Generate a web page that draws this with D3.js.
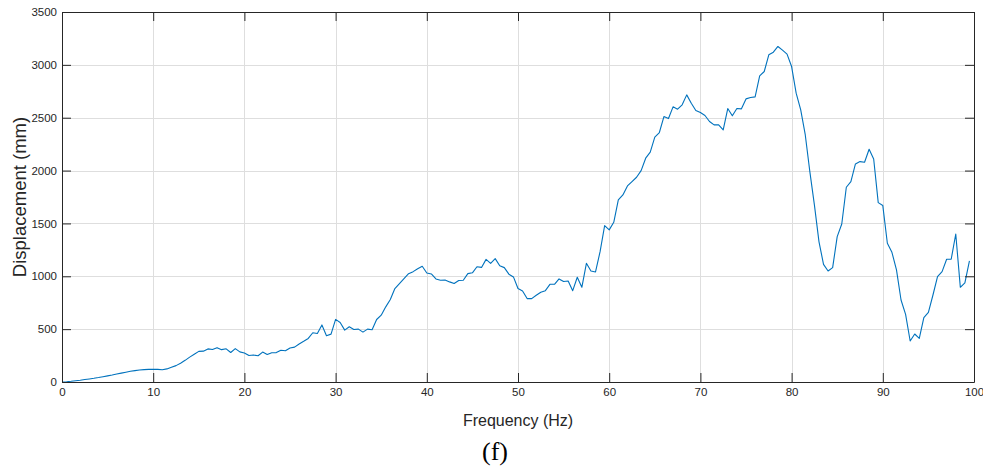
<!DOCTYPE html>
<html>
<head>
<meta charset="utf-8">
<script src="https://cdn.jsdelivr.net/npm/d3@7/dist/d3.min.js"></script>
<style>
  html, body { margin: 0; padding: 0; background: #fff; }
  svg { display: block; }
</style>
</head>
<body>
<svg id="chart" width="983" height="468"></svg>
<script>
// ---- data ----
const frequency = [
  0, 0.5, 1, 1.5, 2, 2.5, 3, 3.5, 4, 4.5, 5, 5.5, 6, 6.5, 7, 7.5, 8, 8.5, 9, 9.5,
  10, 10.5, 11, 11.5, 12, 12.5, 13, 13.5, 14, 14.5, 15, 15.5, 16, 16.5, 17, 17.5, 18, 18.5, 19, 19.5,
  20, 20.5, 21, 21.5, 22, 22.5, 23, 23.5, 24, 24.5, 25, 25.5, 26, 26.5, 27, 27.5, 28, 28.5, 29, 29.5,
  30, 30.5, 31, 31.5, 32, 32.5, 33, 33.5, 34, 34.5, 35, 35.5, 36, 36.5, 37, 37.5, 38, 38.5, 39, 39.5,
  40, 40.5, 41, 41.5, 42, 42.5, 43, 43.5, 44, 44.5, 45, 45.5, 46, 46.5, 47, 47.5, 48, 48.5, 49, 49.5,
  50, 50.5, 51, 51.5, 52, 52.5, 53, 53.5, 54, 54.5, 55, 55.5, 56, 56.5, 57, 57.5, 58, 58.5, 59, 59.5,
  60, 60.5, 61, 61.5, 62, 62.5, 63, 63.5, 64, 64.5, 65, 65.5, 66, 66.5, 67, 67.5, 68, 68.5, 69, 69.5,
  70, 70.5, 71, 71.5, 72, 72.5, 73, 73.5, 74, 74.5, 75, 75.5, 76, 76.5, 77, 77.5, 78, 78.5, 79, 79.5,
  80, 80.5, 81, 81.5, 82, 82.5, 83, 83.5, 84, 84.5, 85, 85.5, 86, 86.5, 87, 87.5, 88, 88.5, 89, 89.5,
  90, 90.5, 91, 91.5, 92, 92.5, 93, 93.5, 94, 94.5, 95, 95.5, 96, 96.5, 97, 97.5, 98, 98.5, 99, 99.5
];
const displacement = [
  0, 3, 7, 12, 17, 23, 29, 35, 42, 50, 58, 66, 75, 84, 93, 101, 108, 113, 117, 119,
  120, 119, 116, 124, 140, 155, 178, 205, 235, 262, 290, 292, 313, 307, 325, 306, 314, 279, 316, 285,
  275, 250, 255, 248, 283, 260, 277, 278, 300, 296, 322, 330, 360, 385, 412, 466, 459, 540, 438, 453,
  592, 563, 491, 522, 497, 500, 472, 500, 494, 591, 632, 711, 780, 884, 931, 978, 1025, 1044, 1072, 1095,
  1031, 1022, 975, 962, 965, 947, 932, 960, 962, 1025, 1033, 1090, 1084, 1160, 1122, 1167, 1099, 1082, 1020, 994,
  884, 861, 789, 789, 820, 849, 864, 924, 924, 975, 950, 956, 864, 991, 896, 1123, 1050, 1041, 1233, 1480,
  1439, 1511, 1722, 1770, 1855, 1896, 1937, 2000, 2117, 2174, 2316, 2360, 2511, 2492, 2603, 2581, 2622, 2716, 2637, 2568,
  2549, 2521, 2464, 2432, 2432, 2385, 2587, 2518, 2587, 2584, 2678, 2691, 2697, 2896, 2937, 3095, 3120, 3174, 3139, 3101,
  2984, 2732, 2574, 2337, 1990, 1675, 1328, 1113, 1050, 1082, 1375, 1495, 1842, 1896, 2063, 2085, 2079, 2202, 2110, 1697,
  1669, 1312, 1227, 1060, 776, 640, 388, 454, 413, 609, 659, 823, 997, 1044, 1161, 1161, 1400, 896, 937, 1146
];
const xTicks = [0, 10, 20, 30, 40, 50, 60, 70, 80, 90, 100];
const yTicks = [0, 500, 1000, 1500, 2000, 2500, 3000, 3500];
const xLabel = "Frequency (Hz)";
const yLabel = "Displacement (mm)";
const caption = "(f)";

// ---- layout ----
const W = 983, H = 468;
const m = { left: 62, top: 12, right: 9, bottom: 86 };
const iw = W - m.left - m.right, ih = H - m.top - m.bottom;
const axisColor = "#262626";
const gridColor = "#dedede";
const lineColor = "#0072BD";
const tickLen = 9;

const svg = d3.select("#chart");
const g = svg.append("g").attr("transform", `translate(${m.left},${m.top})`);

const x = d3.scaleLinear().domain([0, 100]).range([0, iw]);
const y = d3.scaleLinear().domain([0, 3500]).range([ih, 0]);

// grid
g.append("g").selectAll("line").data(xTicks.slice(1, -1)).join("line")
  .attr("x1", d => Math.round(x(d)) + 0.5).attr("x2", d => Math.round(x(d)) + 0.5)
  .attr("y1", 0).attr("y2", ih)
  .attr("stroke", gridColor).attr("stroke-width", 1);
g.append("g").selectAll("line").data(yTicks.slice(1, -1)).join("line")
  .attr("y1", d => Math.round(y(d)) + 0.5).attr("y2", d => Math.round(y(d)) + 0.5)
  .attr("x1", 0).attr("x2", iw)
  .attr("stroke", gridColor).attr("stroke-width", 1);

// data line
const line = d3.line().x((d, i) => x(frequency[i])).y(d => y(d));
g.append("path").datum(displacement)
  .attr("d", line)
  .attr("fill", "none")
  .attr("stroke", lineColor)
  .attr("stroke-width", 1.1)
  .attr("stroke-linejoin", "round");

// axes (ticks inward)
const fmt = d3.format("d");
const xAxisB = d3.axisBottom(x).tickValues(xTicks).tickSizeInner(-tickLen).tickSizeOuter(0).tickPadding(6).tickFormat(fmt);
const xAxisT = d3.axisTop(x).tickValues(xTicks).tickSizeInner(-tickLen).tickSizeOuter(0).tickFormat("");
const yAxisL = d3.axisLeft(y).tickValues(yTicks).tickSizeInner(-tickLen).tickSizeOuter(0).tickPadding(5).tickFormat(fmt);
const yAxisR = d3.axisRight(y).tickValues(yTicks).tickSizeInner(-tickLen).tickSizeOuter(0).tickFormat("");

function styleAxis(sel) {
  sel.select(".domain").attr("stroke", axisColor).attr("stroke-width", 1);
  sel.selectAll(".tick line").attr("stroke", axisColor).attr("stroke-width", 1);
  sel.selectAll(".tick text").attr("fill", axisColor)
    .style("font-family", "'Liberation Sans', Arial, sans-serif").style("font-size", "11.5px");
}
g.append("g").attr("transform", `translate(0,${ih})`).call(xAxisB).call(styleAxis);
g.append("g").call(xAxisT).call(styleAxis);
g.append("g").call(yAxisL).call(styleAxis);
g.append("g").attr("transform", `translate(${iw},0)`).call(yAxisR).call(styleAxis);

// labels
svg.append("text")
  .attr("x", m.left + iw / 2).attr("y", 426)
  .attr("text-anchor", "middle")
  .attr("fill", axisColor)
  .style("font-family", "'Liberation Sans', Arial, sans-serif").style("font-size", "16px")
  .text(xLabel);
svg.append("text")
  .attr("transform", `translate(26,${m.top + ih / 2}) rotate(-90)`)
  .attr("text-anchor", "middle")
  .attr("fill", axisColor)
  .style("font-family", "'Liberation Sans', Arial, sans-serif").style("font-size", "18.5px")
  .text(yLabel);
svg.append("text")
  .attr("x", 495).attr("y", 460)
  .attr("text-anchor", "middle")
  .attr("fill", "#000")
  .style("font-family", "'Liberation Serif', 'Times New Roman', serif").style("font-size", "26px")
  .text(caption);
</script>
</body>
</html>
